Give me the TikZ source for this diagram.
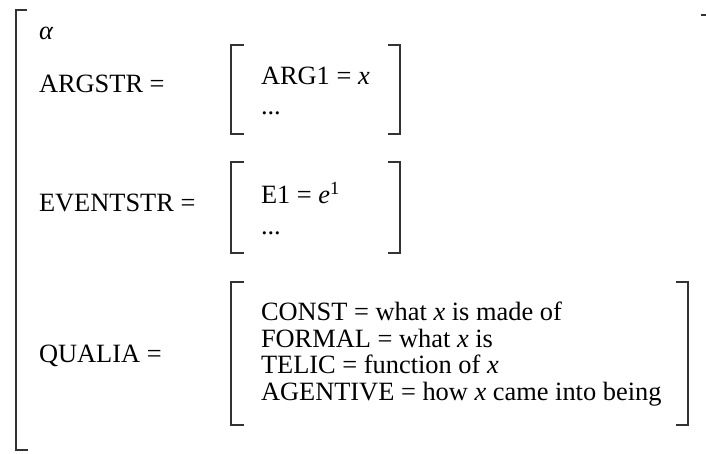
\documentclass[tikz,border=0pt]{standalone}
\usepackage{fontspec}
\setmainfont{Liberation Serif}
\begin{document}
\begin{tikzpicture}[x=1pt,y=-1pt,
  txt/.style={anchor=base west,inner sep=0pt,outer sep=0pt,font=\fontsize{26.4}{27}\selectfont},
  brk/.style={draw=black!80,line width=1.3pt}]
\useasboundingbox (0,0) rectangle (706,454);
% outer bracket
\coordinate (o1) at (27,10);
\coordinate (o2) at (16,10);
\coordinate (o3) at (16,450);
\coordinate (o4) at (28,450);
\draw[brk] (o1) -- (o2) -- (o3) -- (o4);
\coordinate (t1) at (701,15);
\coordinate (t2) at (706,15);
\draw[brk] (t1) -- (t2);
% labels
\node[txt] (alpha) at (39,40) {\textit{α}};
\node[txt] (arg) at (39,93) {ARGSTR =};
\node[txt] (ev) at (39,212) {EVENTSTR =};
\node[txt] (qu) at (39,362) {QUALIA =};
% ARGSTR bracket
\coordinate (a1) at (244,45); \coordinate (a2) at (231,45);
\coordinate (a3) at (231,134); \coordinate (a4) at (244,134);
\draw[brk] (a1) -- (a2) -- (a3) -- (a4);
\coordinate (a5) at (388,45); \coordinate (a6) at (400,45);
\coordinate (a7) at (400,134); \coordinate (a8) at (388,134);
\draw[brk] (a5) -- (a6) -- (a7) -- (a8);
\node[txt] (arg1) at (261,85) {ARG1 = \textit{x}};
\node[txt] (argd) at (261,115) {...};
% EVENTSTR bracket
\coordinate (e1) at (244,162); \coordinate (e2) at (231,162);
\coordinate (e3) at (231,253); \coordinate (e4) at (244,253);
\draw[brk] (e1) -- (e2) -- (e3) -- (e4);
\coordinate (e5) at (388,162); \coordinate (e6) at (400,162);
\coordinate (e7) at (400,253); \coordinate (e8) at (388,253);
\draw[brk] (e5) -- (e6) -- (e7) -- (e8);
\node[txt] (ev1) at (261,204) {E1 = \textit{e}\textsuperscript{1}};
\node[txt] (evd) at (261,234) {...};
% QUALIA bracket
\coordinate (q1) at (244,282); \coordinate (q2) at (231,282);
\coordinate (q3) at (231,425); \coordinate (q4) at (244,425);
\draw[brk] (q1) -- (q2) -- (q3) -- (q4);
\coordinate (q5) at (676,282); \coordinate (q6) at (688,282);
\coordinate (q7) at (688,425); \coordinate (q8) at (676,425);
\draw[brk] (q5) -- (q6) -- (q7) -- (q8);
\node[txt] (c1) at (261,320) {CONST = what \textit{x} is made of};
\node[txt] (c2) at (261,347) {FORMAL = what \textit{x} is};
\node[txt] (c3) at (261,373) {TELIC = function of \textit{x}};
\node[txt] (c4) at (261,400) {AGENTIVE = how \textit{x} came into being};
\end{tikzpicture}
\end{document}
